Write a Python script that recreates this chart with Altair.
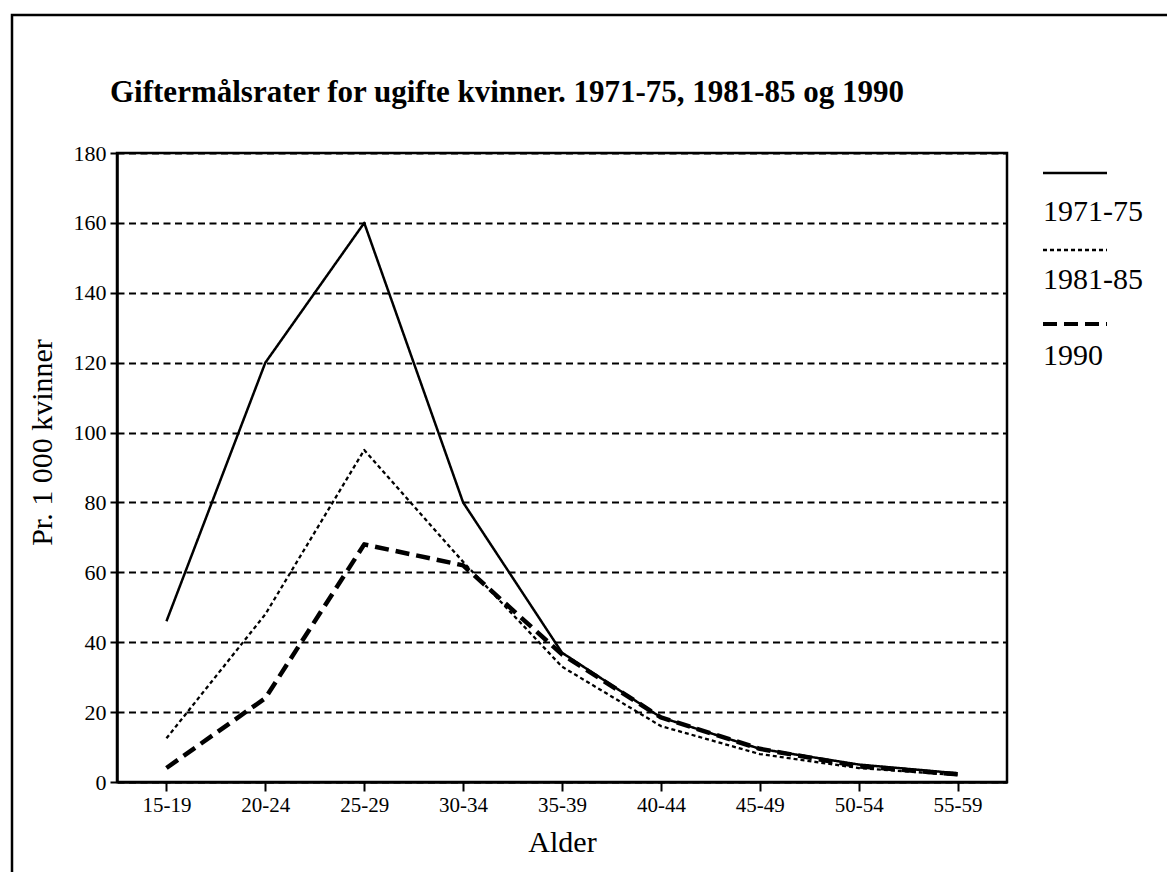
import altair as alt
import pandas as pd

ages = ["15-19", "20-24", "25-29", "30-34", "35-39", "40-44", "45-49", "50-54", "55-59"]
series_names = ["1971-75", "1981-85", "1990"]
v1971 = [46, 120, 160, 80, 37, 18.5, 9.5, 5, 2.5]
v1981 = [12.5, 48, 95, 63, 33, 16, 8, 4, 2]
v1990 = [4, 24, 68, 62, 36.5, 18.5, 9.5, 4.5, 2.2]
y_ticks = [0, 20, 40, 60, 80, 100, 120, 140, 160, 180]
title_text = "Giftermålsrater for ugifte kvinner. 1971-75, 1981-85 og 1990"

FONT = "Liberation Serif, Times New Roman, serif"
dashes = [[1, 0], [4, 3], [14, 7]]
widths = [2.5, 2.3, 4.5]

W, H = 890, 629

x_enc = alt.X("Alder:N", sort=ages,
              scale=alt.Scale(type="point", padding=0.5, domain=ages),
              axis=alt.Axis(title="Alder", labelAngle=0, labelFontSize=21,
                            labelFont=FONT, labelColor="black", labelPadding=3,
                            tickSize=9, tickColor="black", tickWidth=2,
                            domainColor="black", domainWidth=2.5,
                            titleFont=FONT, titleFontSize=30, titleFontWeight="normal",
                            titleColor="black", titleX=445, titleY=60,
                            titleBaseline="middle", titleAlign="center", grid=False))
y_enc = alt.Y("Verdi:Q",
              scale=alt.Scale(domain=[0, 180], nice=False),
              axis=alt.Axis(title="Pr. 1 000 kvinner", values=y_ticks, labelFontSize=22,
                            labelFont=FONT, labelColor="black", labelPadding=4,
                            tickSize=7, tickColor="black", tickWidth=2,
                            domainColor="black", domainWidth=2.5,
                            grid=True, gridColor="black", gridWidth=2, gridDash=[7, 4.5],
                            titleFont=FONT, titleFontSize=30, titleFontWeight="normal",
                            titleColor="black", titleX=-75, titleY=289,
                            titleAngle=270, titleBaseline="middle", titleAlign="center"))

layers = []
for i, (name, vals) in enumerate(zip(series_names, [v1971, v1981, v1990])):
    df = pd.DataFrame({"Alder": ages, "Verdi": vals, "Periode": name})
    layers.append(
        alt.Chart(df).mark_line(color="black", strokeCap="butt", strokeJoin="round",
                                strokeWidth=widths[i], strokeDash=dashes[i]).encode(
            x=x_enc, y=y_enc)
    )

one = alt.Data(values=[{"f": 1}])

plot_box = alt.Chart(one).mark_rect(
    fill=None, stroke="black", strokeWidth=2.5, fillOpacity=0
).encode(x=alt.value(0), y=alt.value(0), x2=alt.value(W), y2=alt.value(H))

frame = alt.Chart(one).mark_rect(
    fill=None, stroke="black", strokeWidth=2.5, fillOpacity=0
).encode(x=alt.value(-105), y=alt.value(-138), x2=alt.value(2000), y2=alt.value(2000))

title = alt.Chart(alt.Data(values=[{"t": title_text}])).mark_text(
    font=FONT, fontSize=31, fontWeight="bold", align="left",
    baseline="alphabetic", color="black"
).encode(text="t:N", x=alt.value(-7), y=alt.value(-51))

legend_layers = []
sym_y = [20, 97, 171]
lab_y = [68, 136, 212]
leg_w = [2.5, 2.5, 4]
for i, name in enumerate(series_names):
    d = alt.Data(values=[{"s": name}])
    legend_layers.append(
        alt.Chart(d).mark_rule(color="black", strokeWidth=leg_w[i],
                               strokeDash=dashes[i], strokeCap="butt").encode(
            x=alt.value(926), x2=alt.value(990), y=alt.value(sym_y[i]))
    )
    legend_layers.append(
        alt.Chart(d).mark_text(font=FONT, fontSize=30, align="left",
                               baseline="alphabetic", color="black").encode(
            text="s:N", x=alt.value(926), y=alt.value(lab_y[i]))
    )

chart = alt.layer(*layers, plot_box, frame, title, *legend_layers).properties(
    width=W, height=H,
    autosize=alt.AutoSizeParams(type="none"),
    padding={"left": 109, "top": 145, "right": 160, "bottom": 90},
).configure_view(stroke=None).configure(background="white")

chart.save("out.html", embed_options={"renderer": "svg", "actions": False})
